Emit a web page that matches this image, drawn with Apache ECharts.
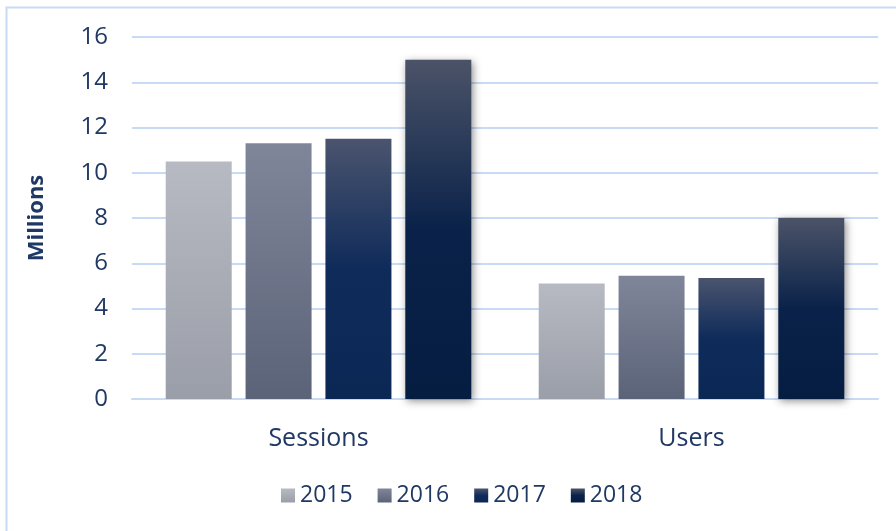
<!DOCTYPE html>
<html>
<head>
<meta charset="utf-8">
<script src="https://cdn.jsdelivr.net/npm/echarts@6/dist/echarts.min.js"></script>
<style>
html, body { margin: 0; padding: 0; background: #fff; }
#main { width: 896px; height: 531px; }
</style>
</head>
<body>
<div id="main"></div>
<script>
// 数据
var categories = ['Sessions', 'Users'];
var years = ['2015', '2016', '2017', '2018'];
var v2015 = [10.5, 5.1];
var v2016 = [11.3, 5.45];
var v2017 = [11.5, 5.35];
var v2018 = [15.0, 8.0];
var yTicks = [0, 2, 4, 6, 8, 10, 12, 14, 16];

var navy = '#1f3864';
var font = 'Open Sans';

function grad(stops) {
    return new echarts.graphic.LinearGradient(0, 0, 0, 1, stops);
}

var colors = [
    grad([{offset: 0, color: '#b7bac2'}, {offset: 1, color: '#9a9ea8'}]),
    grad([{offset: 0, color: '#80869a'}, {offset: 1, color: '#5b6378'}]),
    grad([{offset: 0, color: '#4a546e'}, {offset: 0.5, color: '#0f2b5a'}, {offset: 1, color: '#0b2855'}]),
    grad([{offset: 0, color: '#4b5368'}, {offset: 0.5, color: '#0a2249'}, {offset: 1, color: '#061d42'}])
];

function makeSeries(name, data, i) {
    var s = {
        name: name,
        type: 'bar',
        data: data,
        barWidth: 66,
        barGap: '21%',
        itemStyle: { color: colors[i] }
    };
    if (i == 3) {
        s.itemStyle.shadowBlur = 8;
        s.itemStyle.shadowColor = 'rgba(0,0,0,0.45)';
        s.itemStyle.shadowOffsetX = 2;
        s.itemStyle.shadowOffsetY = 2;
    }
    return s;
}

var myChart = echarts.init(document.getElementById('main'));
var option = {
    animation: false,
    graphic: [{
        type: 'rect',
        shape: { x: 6.5, y: 7.5, width: 1000, height: 1000 },
        style: { fill: 'none', stroke: '#c9daf4', lineWidth: 2 },
        silent: true
    }],
    grid: { left: 132, right: 18, top: 37, bottom: 132 },
    legend: {
        data: years,
        bottom: 19,
        left: 276,
        itemWidth: 14,
        itemHeight: 14,
        itemGap: 25,
        icon: 'rect',
        textStyle: { color: navy, fontSize: 23, fontFamily: font, padding: [0, 0, 0, 0] }
    },
    xAxis: {
        type: 'category',
        data: categories,
        axisLine: { lineStyle: { color: '#c9daf4', width: 2 } },
        axisTick: { show: false },
        axisLabel: { color: navy, fontSize: 25, fontFamily: font, margin: 27 }
    },
    yAxis: {
        type: 'value',
        min: yTicks[0],
        max: yTicks[yTicks.length - 1],
        interval: 2,
        name: 'Millions',
        nameLocation: 'middle',
        nameGap: 84,
        nameTextStyle: { color: navy, fontSize: 22, fontWeight: 'bold', fontFamily: font },
        axisLine: { show: false },
        axisTick: { show: false },
        axisLabel: { color: navy, fontSize: 24, fontFamily: font, margin: 24 },
        splitLine: { lineStyle: { color: '#c9daf4', width: 2 } }
    },
    series: [
        makeSeries(years[0], v2015, 0),
        makeSeries(years[1], v2016, 1),
        makeSeries(years[2], v2017, 2),
        makeSeries(years[3], v2018, 3)
    ]
};
myChart.setOption(option, true);
</script>
</body>
</html>
